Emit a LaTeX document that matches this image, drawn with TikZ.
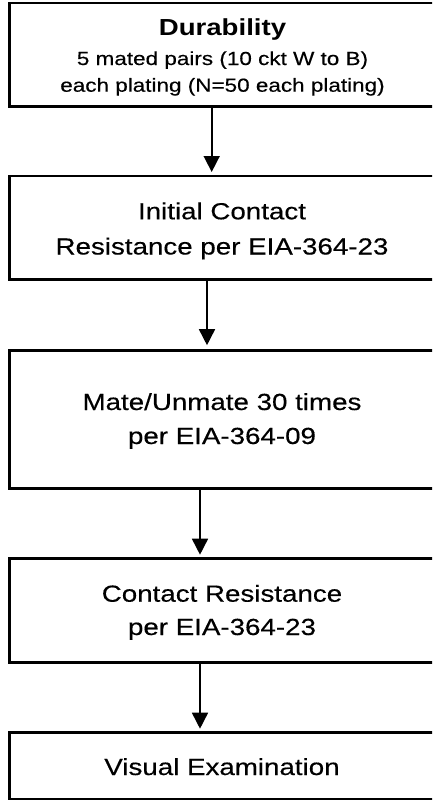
\documentclass[tikz,border=0pt]{standalone}
\usepackage{fontspec}
\setmainfont{Liberation Sans}[FakeStretch=1.19, UprightFeatures={FakeBold=0.35}]
\usetikzlibrary{arrows.meta}
\tikzset{
  box/.style={draw=black, line width=2.6pt, rectangle, minimum width=425pt, inner sep=0pt},
  lbl/.style={anchor=base, inner sep=0pt, font=\fontsize{23.3}{28}\selectfont},
  sub/.style={anchor=base, inner sep=0pt, font=\fontsize{18.9}{22}\selectfont},
  ttl/.style={anchor=base, inner sep=0pt, font=\fontsize{23.2}{28}\selectfont\bfseries},
  arr/.style={line width=1.6pt, -{Triangle[length=16pt,width=16pt]}},
}
\begin{document}
\begin{tikzpicture}[x=1pt,y=-1pt]
\useasboundingbox (0,0) rectangle (432,801);
\clip (0,0) rectangle (432,801);
\fill[white] (0,0) rectangle (432,801);
% boxes
\node[box, minimum height=103.5pt] (b1) at (222,54.75) {};
\node[box, minimum height=103.5pt] (b2) at (222,227.75) {};
\node[box, minimum height=137.8pt] (b3) at (222,419.4) {};
\node[box, minimum height=103.6pt] (b4) at (222,610.5) {};
\node[box, minimum height=66.5pt] (b5) at (222,765.75) {};
% texts
\node[ttl] (t1a) at (222.5,35) {Durability};
\node[sub] (t1b) at (222.5,65) {5 mated pairs (10 ckt W to B)};
\node[sub] (t1c) at (222.5,91.7) {each plating (N=50 each plating)};
\node[lbl] (t2a) at (222,219.3) {Initial Contact};
\node[lbl] (t2b) at (222,254.5) {Resistance per EIA-364-23};
\node[lbl] (t3a) at (222,410) {Mate/Unmate 30 times};
\node[lbl] (t3b) at (222,444) {per EIA-364-09};
\node[lbl] (t4a) at (222,601.7) {Contact Resistance};
\node[lbl] (t4b) at (222,635) {per EIA-364-23};
\node[lbl] (t5a) at (222,775) {Visual Examination};
% connectors
\coordinate (c1) at (211.7,0);
\coordinate (c2) at (207,0);
\coordinate (c3) at (200,0);
\coordinate (c4) at (200,0);
\draw[arr, shorten >=2.7pt] (b1.south -| c1) -- (b2.north -| c1);
\draw[arr, shorten >=4pt] (b2.south -| c2) -- (b3.north -| c2);
\draw[arr, shorten >=2.7pt] (b3.south -| c3) -- (b4.north -| c3);
\draw[arr, shorten >=2.5pt] (b4.south -| c4) -- (b5.north -| c4);
\end{tikzpicture}
\end{document}
